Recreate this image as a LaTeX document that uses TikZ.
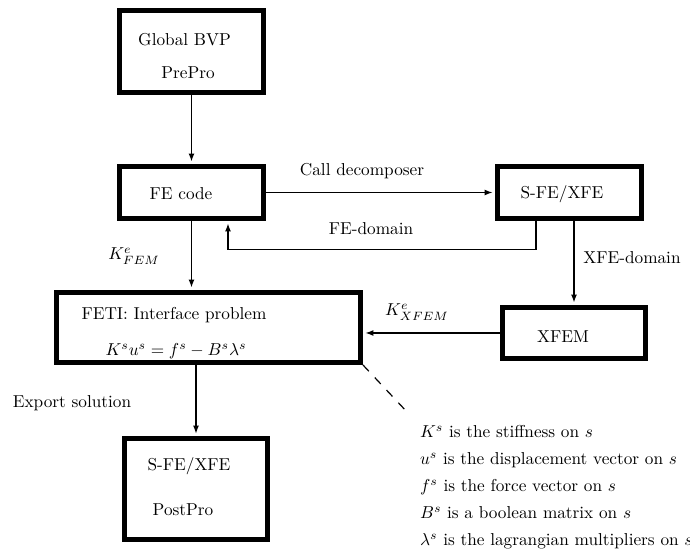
\documentclass[tikz,border=0pt]{standalone}
\usetikzlibrary{arrows.meta,calc}
\begin{document}
\begin{tikzpicture}[x=0.58pt, y=-0.58pt,
  box/.style={draw, line width=2.9pt, inner sep=0pt},
  arr/.style={line width=0.7pt, -{Latex[length=4.6pt,width=3.4pt]}, shorten >=1.4pt}]
\useasboundingbox (0,0) rectangle (690,557);

% boxes
\node[box, minimum width=83.5pt, minimum height=47.6pt] (bvp) at (191.5,51.5) {};
\node[box, minimum width=83.5pt, minimum height=30.2pt] (fe) at (191.5,192.5) {};
\node[box, minimum width=83.5pt, minimum height=30.2pt] (sfe) at (569.5,192.5) {};
\node[box, minimum width=176.3pt, minimum height=40.6pt] (feti) at (208.5,327.5) {};
\node[box, minimum width=82.9pt, minimum height=29.6pt] (xfem) at (574,333) {};
\node[box, minimum width=82.9pt, minimum height=58.5pt] (post) at (196,489) {};

% box texts
\node (bvpname) at (184.5,40) {Global BVP};
\node (bvppre) at (188,73) {PrePro};
\node (fename) at (181,194) {FE code};
\node (sfename) at (562,194) {S-FE/XFE};
\node (fetiname) at (174,315) {FETI: Interface problem};
\node (fetieq) at (176,351) {$K^su^s = f^s - B^s\lambda^s$};
\node (xfemname) at (563,337) {XFEM};
\node (postname) at (189,466) {S-FE/XFE};
\node (postpro) at (183,510) {PostPro};

% connectors
\draw[arr] (bvp.south) -- (fe.north);
\draw[arr] (fe.east) -- (sfe.west);
\draw[arr] ($(sfe.south)+(-33.5,0)$) |- ($(fe.south)+(36.5,28.5)$) -- ($(fe.south)+(36.5,0)$);
\draw[arr] (fe.south) -- (fe.south |- feti.north);
\draw[arr] (xfem.north |- sfe.south) -- (xfem.north);
\draw[arr] (xfem.west) -- (xfem.west -| feti.east);
\draw[arr] (post.north |- feti.south) -- (post.north);
\coordinate (dashend) at (408,413);
\draw[line width=0.7pt, dash pattern=on 5pt off 5pt] (feti.south east) -- (dashend);

% labels
\node (calllab) at (362,171) {Call decomposer};
\node (felab) at (371,229) {FE-domain};
\node (xfelab) at (632,258) {XFE-domain};
\node[inner sep=1pt] (kfem) at (134,256) {$K^e_{FEM}$};
\node[inner sep=1pt] (kxfem) at (417,312) {$K^e_{XFEM}$};
\node (export) at (72,403) {Export solution};

% legend
\node[anchor=base west] (leg1) at (414,438) {$K^s$ is the stiffness on $s$};
\node[anchor=base west] (leg2) at (414,465) {$u^s$ is the displacement vector on $s$};
\node[anchor=base west] (leg3) at (414,492) {$f^s$ is the force vector on $s$};
\node[anchor=base west] (leg4) at (414,519) {$B^s$ is a boolean matrix on $s$};
\node[anchor=base west] (leg5) at (414,546) {$\lambda^s$ is the lagrangian multipliers on $s$};
\end{tikzpicture}
\end{document}
